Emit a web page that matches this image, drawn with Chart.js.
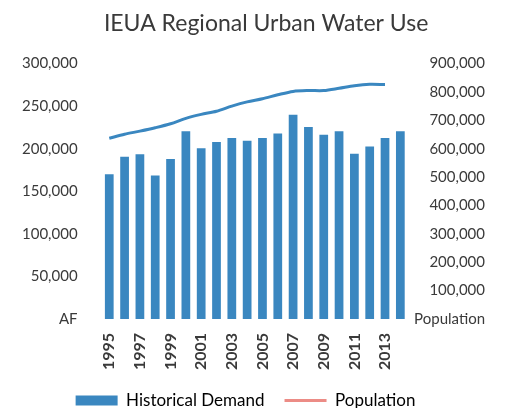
<!DOCTYPE html>
<html>
<head>
<meta charset="utf-8">
<title>IEUA Regional Urban Water Use</title>
<script src="https://cdn.jsdelivr.net/npm/chart.js@4/dist/chart.umd.min.js"></script>
<style>
  body { margin: 0; background: #fff; }
  #wrap { width: 507px; height: 408px; position: relative; }
</style>
</head>
<body>
<div id="wrap"><canvas id="waterChart"></canvas></div>
<script>
// Chart data
const years = ['1995', '1996', '1997', '1998', '1999', '2000', '2001', '2002', '2003', '2004',
               '2005', '2006', '2007', '2008', '2009', '2010', '2011', '2012', '2013', '2014'];
const demand = [170000, 190500, 193500, 168500, 188000, 220500, 200500, 208000, 212500, 209500,
                212500, 218000, 240000, 225500, 216500, 220500, 194000, 202500, 212500, 220500];
const population = [637000, 651000, 662000, 674000, 688000, 707000, 721000, 732000, 750000, 765000,
                    776000, 790000, 802000, 805000, 805000, 813000, 822000, 827000, 826000, null];

const blue = '#3a87c0';
const pink = '#ec8c86';
const textColor = '#3a3a3a';

const ctx = document.getElementById('waterChart').getContext('2d');

new Chart(ctx, {
    type: 'bar',
    data: {
        labels: years,
        datasets: [{
            label: 'Historical Demand',
            data: demand,
            backgroundColor: blue,
            yAxisID: 'yDemand',
            categoryPercentage: 1,
            barPercentage: 0.57,
            order: 2
        }, {
            type: 'line',
            label: 'Population',
            data: population,
            borderColor: blue,
            borderWidth: 3,
            pointRadius: 0,
            tension: 0.3,
            yAxisID: 'yPop',
            order: 1
        }]
    },
    options: {
        responsive: true,
        maintainAspectRatio: false,
        animation: false,
        layout: { padding: { left: 6, right: 22, top: 4, bottom: -11 } },
        plugins: {
            title: {
                display: true,
                // leading spaces nudge the title over the plot, as in the original
                text: '\u00a0\u00a0\u00a0\u00a0\u00a0\u00a0\u00a0IEUA Regional Urban Water Use',
                color: textColor,
                font: { family: 'Lato', size: 23, weight: 'normal' },
                padding: { top: 6, bottom: 26 }
            },
            legend: {
                position: 'bottom',
                labels: {
                    color: '#262626',
                    font: { family: 'Lato', size: 17 },
                    usePointStyle: true,
                    pointStyleWidth: 42,
                    boxWidth: 42,
                    boxHeight: 10,
                    padding: 20,
                    generateLabels: () => [
                        { text: 'Historical Demand', fillStyle: blue, strokeStyle: blue, lineWidth: 0, pointStyle: 'rect', datasetIndex: 0 },
                        { text: 'Population', fillStyle: pink, strokeStyle: pink, lineWidth: 3, pointStyle: 'line', datasetIndex: 1 }
                    ]
                }
            },
            tooltip: { enabled: false }
        },
        scales: {
            x: {
                grid: { display: false },
                border: { display: false },
                afterFit: axis => { axis.height = 53; },
                ticks: {
                    color: textColor,
                    font: { family: 'Lato', size: 16, weight: 'bold' },
                    autoSkip: false,
                    minRotation: 90,
                    maxRotation: 90,
                    padding: 6,
                    callback: function(value, index) {
                        return index % 2 === 0 ? this.getLabelForValue(value) : '';
                    }
                }
            },
            yDemand: {
                position: 'left',
                min: 0,
                max: 300000,
                grid: { display: false },
                border: { display: false },
                ticks: {
                    stepSize: 50000,
                    color: textColor,
                    font: { family: 'Lato', size: 15 },
                    padding: 16,
                    callback: v => v === 0 ? 'AF' : v.toLocaleString('en-US')
                }
            },
            yPop: {
                position: 'right',
                min: 0,
                max: 900000,
                grid: { display: false },
                border: { display: false },
                afterFit: axis => { axis.width = 77; },
                ticks: {
                    stepSize: 100000,
                    color: textColor,
                    font: { family: 'Lato', size: 15 },
                    crossAlign: 'far',
                    padding: 6,
                    callback: v => v === 0 ? 'Population' : v.toLocaleString('en-US')
                }
            }
        }
    }
});
</script>
</body>
</html>
